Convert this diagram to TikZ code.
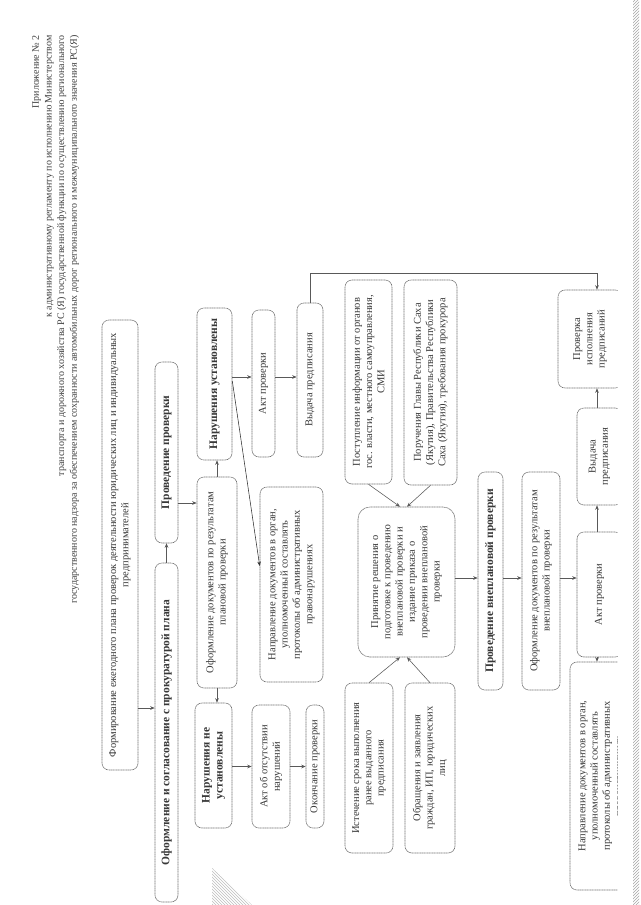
\documentclass[tikz,border=0pt]{standalone}
\usepackage{fontspec}
\setmainfont{Liberation Serif}
\usetikzlibrary{arrows.meta,patterns}
\begin{document}
\begin{tikzpicture}[x=1pt,y=-1pt,
  bx/.style={draw=black!55, dash pattern=on 1.2pt off 0.5pt, line width=0.6pt, rounded corners=7pt, rotate=90, align=center, inner sep=1pt, font=\fontsize{10.5}{12.3}\selectfont, text=black!78},
  bb/.style={bx, font=\fontsize{11.5}{13}\selectfont\bfseries},
  ar/.style={draw=black!65, line width=0.55pt, -{Stealth[length=4.5pt,width=3.6pt]}},
]
\useasboundingbox (0,0) rectangle (640,905);
\fill[white] (0,0) rectangle (640,905);

% helper coordinates
\coordinate (Y708) at (0,708);
\coordinate (Y503) at (0,503);
\coordinate (Y377) at (0,377);
\coordinate (Y381) at (0,381);
\coordinate (Y566) at (0,566);
\coordinate (Y273) at (0,273);
\coordinate (Y578) at (0,578);
\coordinate (X597) at (597,0);
\coordinate (X400) at (400,0);
\coordinate (X407) at (407,0);

% header
\node[rotate=90, anchor=north east, align=right, inner sep=0pt, font=\fontsize{10}{12.7}\selectfont, text=black!75] (hdr) at (32,35) {Приложение № 2\\к административному регламенту по исполнению Министерством\\транспорта и дорожного хозяйства РС (Я) государственной функции по осуществлению регионального\\государственного надзора за обеспечением сохранности автомобильных дорог регионального и межмуниципального значения РС(Я)};

% left part
\node[bx, minimum width=450pt, minimum height=36pt] (plan) at (120,545) {Формирование ежегодного плана проверок деятельности юридических лиц и индивидуальных\\предпринимателей};
\node[bb, minimum width=339pt, minimum height=23pt] (sogl) at (166.5,732.5) {Оформление и согласование с прокуратурой плана};
\node[bb, minimum width=181pt, minimum height=23pt] (prov1) at (166.5,452.5) {Проведение проверки};
\node[bx, minimum width=211pt, minimum height=40pt] (oform1) at (217,582.5) {Оформление документов по результатам\\плановой проверки};
\node[bb, minimum width=152pt, minimum height=35pt] (nust) at (214.5,384) {Нарушения установлены};
\node[bb, minimum width=125pt, minimum height=37pt] (nne) at (213.5,765.5) {Нарушения не\\установлены};
\node[bx, minimum width=123pt, minimum height=38pt] (aktno) at (271,766.5) {Акт об отсутствии\\нарушений};
\node[bx, minimum width=123pt, minimum height=18pt] (okon) at (315,766.5) {Окончание проверки};
\node[bx, minimum width=195pt, minimum height=63pt] (napr1) at (291.5,584.5) {Направление документов в орган,\\уполномоченный составлять\\протоколы об административных\\правонарушениях};
\node[bx, minimum width=147pt, minimum height=23pt] (akt1) at (263.5,383.5) {Акт проверки};
\node[bx, minimum width=154pt, minimum height=26pt] (vyd1) at (310,380) {Выдача предписания};

% middle part
\node[bx, minimum width=204pt, minimum height=47pt] (post) at (368.5,382) {Поступление информации от органов\\гос. власти, местного самоуправления,\\СМИ};
\node[bx, minimum width=205pt, minimum height=53pt] (poruch) at (430.5,382.5) {Поручения Главы Республики Саха\\(Якутия), Правительства Республики\\Саха (Якутия), требования прокурора};
\node[bx, rounded corners=12pt, minimum width=150pt, minimum height=97pt] (prin) at (406.5,582) {Принятие решения о\\подготовке к проведению\\внеплановой проверки и\\издание приказа о\\проведении внеплановой\\проверки};
\node[bx, minimum width=170pt, minimum height=48pt] (ist) at (369,768) {Истечение срока выполнения\\ранее выданного\\предписания};
\node[bx, minimum width=170pt, minimum height=50pt] (obr) at (430,768) {Обращения и заявления\\граждан, ИП, юридических\\лиц};
\node[bb, minimum width=218pt, minimum height=25pt] (vnep) at (490.5,581) {Проведение внеплановой проверки};
\node[bx, minimum width=218pt, minimum height=38pt] (oform2) at (541,581) {Оформление документов по результатам\\внеплановой проверки};

% right part, cut off by the page edge
\begin{scope}
\clip (0,0) rectangle (617.5,905);
\node[bx, minimum width=125pt, minimum height=45pt] (akt2) at (599.5,594.5) {Акт проверки};
\node[bx, minimum width=97pt, minimum height=45pt] (vyd2) at (599.5,456.5) {Выдача\\предписания};
\node[bx, minimum width=98pt, minimum height=64pt] (prv) at (590,339) {Проверка\\исполнения\\предписаний};
\node[bx, minimum width=228pt, minimum height=63pt] (napr2) at (601.5,776) {Направление документов в орган,\\уполномоченный составлять\\протоколы об административных\\правонарушениях};
\end{scope}

% connectors
\draw[ar] (plan.south |- Y708) -- (sogl.north |- Y708);
\draw[ar] (sogl.east) -- (prov1.west);
\draw[ar] (prov1.south |- Y503) -- (oform1.north |- Y503);
\draw[ar] (oform1.east) -- (oform1.east |- nust.west);
\draw[ar] (oform1.west) -- (oform1.west |- nne.east);
\draw[ar] (nust.south |- Y377) -- (akt1.north |- Y377);
\draw[ar, draw=black!80] (nust.south |- Y381) -- (napr1.north |- Y566);
\draw[ar] (akt1.south |- Y377) -- (vyd1.north |- Y377);
\draw[ar] (nne.south |- aktno.center) -- (aktno.north);
\draw[ar] (aktno.south) -- (okon.north);
\draw[ar] (vyd1.east) -- (vyd1.east |- Y273) -| (X597 |- prv.east);
\draw[ar] (post.west) -- (X400 |- prin.east);
\draw[ar] (poruch.west) -- (X407 |- prin.east);
\draw[ar] (ist.east) -- (X400 |- prin.west);
\draw[ar] (obr.east) -- (X407 |- prin.west);
\draw[ar] (prin.south |- Y578) -- (vnep.north |- Y578);
\draw[ar] (vnep.south |- Y578) -- (oform2.north |- Y578);
\draw[ar] (oform2.south |- Y578) -- (akt2.north |- Y578);
\draw[ar] (X597 |- akt2.east) -- (X597 |- vyd2.west);
\draw[ar] (X597 |- vyd2.east) -- (X597 |- prv.west);
\draw[ar] (X597 |- akt2.west) -- (X597 |- napr2.east);

% scan edge
\fill[pattern=north east lines, pattern color=black!35] (633,0) rectangle (639,905);
\fill[pattern=north west lines, pattern color=black!25] (212,868) -- (252,905) -- (212,905) -- cycle;
\end{tikzpicture}
\end{document}
